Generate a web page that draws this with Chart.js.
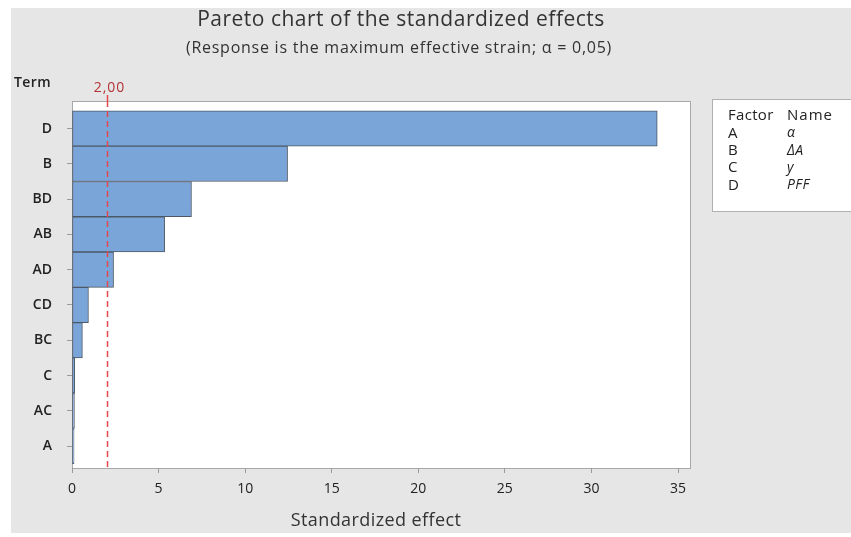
<!DOCTYPE html>
<html>
<head>
<meta charset="utf-8">
<script src="https://cdn.jsdelivr.net/npm/chart.js@4.4.1/dist/chart.umd.min.js"></script>
<style>
  html, body { margin: 0; padding: 0; background: #ffffff; }
  #wrap { width: 851px; height: 537px; position: relative; }
</style>
</head>
<body>
<div id="wrap"><canvas id="c" width="851" height="537"></canvas></div>
<script>
// Terms, ordered from largest to smallest standardized effect
const terms = ['D', 'B', 'BD', 'AB', 'AD', 'CD', 'BC', 'C', 'AC', 'A'];
const effects = [33.8, 12.45, 6.9, 5.35, 2.4, 0.95, 0.6, 0.16, 0.14, 0.12];
// Critical value of the standardized effect (alpha = 0,05)
const criticalValue = 2.00;
const criticalLabel = '2,00';
const xTicks = [0, 5, 10, 15, 20, 25, 30, 35];
// Factor key shown in the side table
const factorCodes = ['A', 'B', 'C', 'D'];
const factorNames = ['α', 'ΔA', 'y', 'PFF'];

const FONT = '"Open Sans", "Noto Sans", sans-serif';

function spacedText(ctx, text, x, y, spacing) {
  ctx.letterSpacing = spacing + 'px';
  ctx.fillText(text, x, y);
  ctx.letterSpacing = '0px';
}

const decor = {
  id: 'decor',
  beforeDraw(chart) {
    const ctx = chart.ctx;
    const a = chart.chartArea;
    ctx.save();
    ctx.fillStyle = '#ffffff';
    ctx.fillRect(0, 0, chart.width, chart.height);
    ctx.fillStyle = '#e6e6e6';
    ctx.fillRect(11, 8, chart.width - 11, 525);
    // plot panel
    ctx.fillStyle = '#ffffff';
    ctx.fillRect(a.left, a.top, a.right - a.left, a.bottom - a.top);
    ctx.strokeStyle = '#a8a8a8';
    ctx.lineWidth = 1;
    ctx.strokeRect(a.left + 0.5, a.top + 0.5, a.right - a.left - 1, a.bottom - a.top);

    // titles
    ctx.fillStyle = '#333333';
    ctx.textAlign = 'center';
    ctx.textBaseline = 'middle';
    ctx.font = '21px ' + FONT;
    spacedText(ctx, 'Pareto chart of the standardized effects', 401, 20, 0.5);
    ctx.font = '16px ' + FONT;
    spacedText(ctx, '(Response is the maximum effective strain; α = 0,05)', 399, 48, 0.75);
    ctx.font = '18px ' + FONT;
    spacedText(ctx, 'Standardized effect', 376, 521, 0.4);
    ctx.textAlign = 'left';
    ctx.font = '600 14px ' + FONT;
    ctx.fillStyle = '#222222';
    spacedText(ctx, 'Term', 14, 83, 0.4);

    // factor key
    ctx.fillStyle = '#ffffff';
    ctx.fillRect(712, 99, 140, 113);
    ctx.strokeStyle = '#b0b0b0';
    ctx.strokeRect(712.5, 99.5, 140, 112);
    ctx.fillStyle = '#222222';
    ctx.font = '15px ' + FONT;
    spacedText(ctx, 'Factor', 728, 116, 0.3);
    spacedText(ctx, 'Name', 787, 116, 1);
    factorCodes.forEach((c, i) => {
      const y = 133.5 + i * 17.3;
      ctx.font = '15px ' + FONT;
      spacedText(ctx, c, 728, y, 0.3);
      ctx.font = 'italic 14px ' + FONT;
      spacedText(ctx, factorNames[i], 787, y, 0.4);
    });
    ctx.restore();
  },
  afterDatasetsDraw(chart) {
    const ctx = chart.ctx;
    const a = chart.chartArea;
    const x = Math.round(chart.scales.x.getPixelForValue(criticalValue)) + 0.5;
    ctx.save();
    ctx.strokeStyle = '#e4474d';
    ctx.lineWidth = 1.5;
    ctx.setLineDash([6, 4]);
    ctx.beginPath();
    ctx.moveTo(x, a.top);
    ctx.lineTo(x, a.bottom);
    ctx.stroke();
    ctx.setLineDash([]);
    ctx.beginPath();
    ctx.moveTo(x, a.top - 6);
    ctx.lineTo(x, a.top);
    ctx.stroke();
    ctx.fillStyle = '#b23436';
    ctx.font = '14px ' + FONT;
    ctx.textAlign = 'center';
    ctx.textBaseline = 'middle';
    spacedText(ctx, criticalLabel, x + 2, 88, 1);
    ctx.restore();
  }
};

new Chart(document.getElementById('c'), {
  type: 'bar',
  data: {
    datasets: [{
      data: terms.map((t, i) => ({ x: effects[i], y: i })),
      backgroundColor: '#7aa5d8',
      borderColor: '#4d5866',
      borderWidth: 1,
      borderSkipped: false,
      barPercentage: 1,
      categoryPercentage: 1
    }]
  },
  options: {
    indexAxis: 'y',
    responsive: false,
    animation: false,
    events: [],
    layout: { padding: { left: 0, top: 101, right: 160, bottom: 0 } },
    plugins: { legend: { display: false }, tooltip: { enabled: false } },
    scales: {
      y: {
        type: 'linear',
        reverse: true,
        offset: false,
        min: -0.78,
        max: 9.62,
        afterFit(s) { s.width = 72; },
        afterBuildTicks(s) { s.ticks = terms.map((t, i) => ({ value: i })); },
        grid: { display: true, offset: false, drawTicks: true, tickLength: 5, tickColor: '#9a9a9a', drawOnChartArea: false },
        border: { display: false },
        ticks: {
          padding: 15,
          color: '#222222',
          font: { family: FONT, size: 14, weight: '600' },
          callback: (v) => terms[v]
        }
      },
      x: {
        type: 'linear',
        min: 0,
        max: 35.75,
        afterFit(s) { s.height = 69; },
        afterBuildTicks(s) { s.ticks = xTicks.map(v => ({ value: v })); },
        grid: { display: true, drawTicks: true, tickLength: 5, tickColor: '#9a9a9a', drawOnChartArea: false },
        border: { display: false },
        ticks: {
          padding: 8,
          color: '#222222',
          font: { family: FONT, size: 14 },
          callback: (v) => String(v)
        }
      }
    }
  },
  plugins: [decor]
});
</script>
</body>
</html>
